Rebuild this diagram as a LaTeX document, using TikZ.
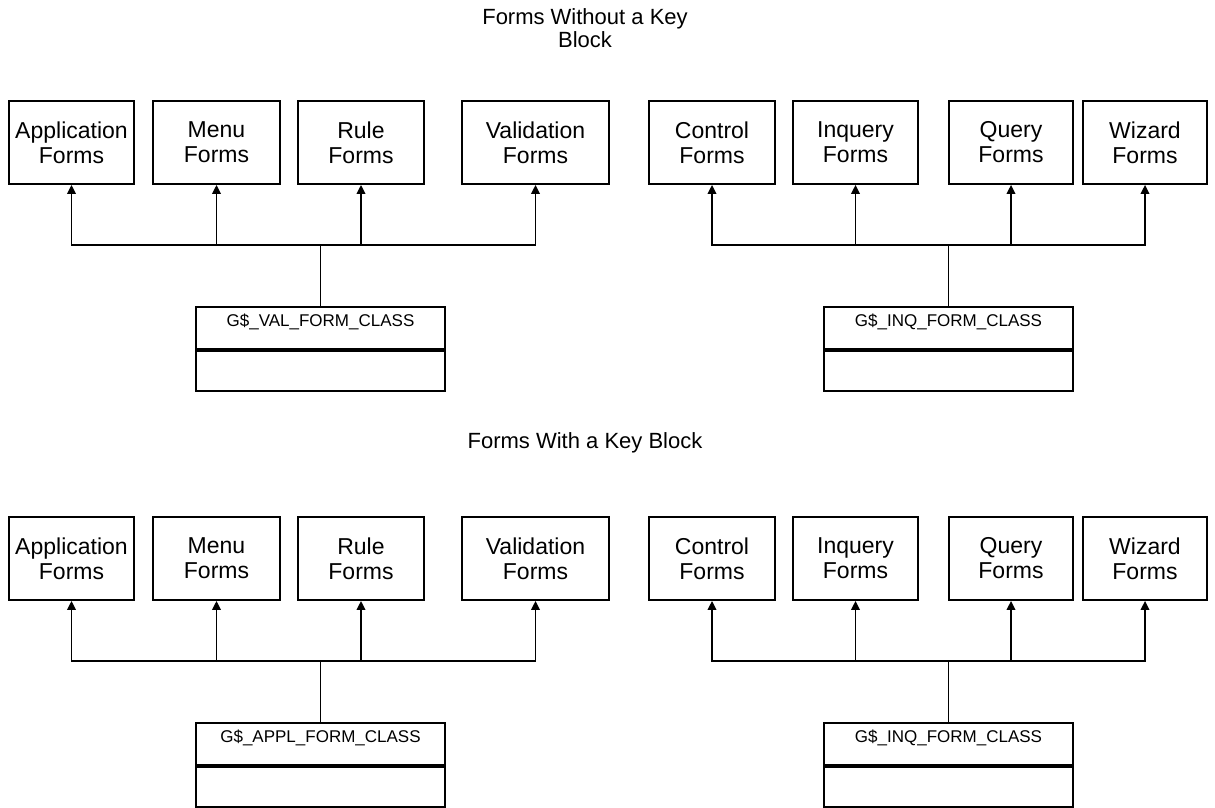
\documentclass[tikz,border=0pt]{standalone}
\usepackage{fontspec}
\setmainfont{Liberation Sans}
\usetikzlibrary{arrows.meta}
\begin{document}
\begin{tikzpicture}[x=1pt, y=-1pt,
        formbox/.style={draw, line width=1.8pt, minimum height=83pt, inner sep=0pt, align=center, font=\fontsize{23}{25}\selectfont},
        classpart/.style={draw, line width=1.8pt, minimum width=249pt, inner sep=0pt},
        classname/.style={anchor=north, inner sep=0pt, yshift=-7.5pt, font=\fontsize{17}{19}\selectfont},
        heading/.style={align=center, inner sep=0pt, font=\fontsize{22}{23}\selectfont},
        bus/.style={line width=1.8pt},
        arr/.style={line width=1.8pt, -{Triangle[width=8.5pt,length=9pt]}}]
        \useasboundingbox (0,0) rectangle (1215,807);

        % forms without a key block
        \node[heading] (titleA) at (585,28.5) {Forms Without a Key\\Block};

        \node[formbox, minimum width=125pt] (appA) at (71.5,142.5) {Application\\Forms};
        \node[formbox, minimum width=127pt] (menuA) at (216.5,142.5) {Menu\\Forms};
        \node[formbox, minimum width=126pt] (ruleA) at (361,142.5) {Rule\\Forms};
        \node[formbox, minimum width=147pt] (validA) at (535.5,142.5) {Validation\\Forms};
        \node[formbox, minimum width=126pt] (ctrlA) at (712,142.5) {Control\\Forms};
        \node[formbox, minimum width=125pt] (inqA) at (855.5,142.5) {Inquery\\Forms};
        \node[formbox, minimum width=124pt] (queryA) at (1011,142.5) {Query\\Forms};
        \node[formbox, minimum width=124pt] (wizA) at (1145,142.5) {Wizard\\Forms};

        \node[classpart, minimum height=42pt, label={[classname]north:G\$\_VAL\_FORM\_CLASS}] (valcls) at (320.5,328) {};
        \node[classpart, minimum height=40pt, anchor=north] (valclsbody) at (valcls.south) {};
        \node[classpart, minimum height=42pt, label={[classname]north:G\$\_INQ\_FORM\_CLASS}] (inqclsA) at (948.5,328) {};
        \node[classpart, minimum height=40pt, anchor=north] (inqclsAbody) at (inqclsA.south) {};

        \coordinate (busA) at (valcls.north |- 0,245);
        \coordinate (busB) at (inqclsA.north |- 0,245);
        \draw[bus] (valcls.north) -- (busA);
        \draw[bus] (inqclsA.north) -- (busB);
        \draw[arr] (busA) -| (appA);
        \draw[arr] (busA) -| (menuA);
        \draw[arr] (busA) -| (ruleA);
        \draw[arr] (busA) -| (validA);
        \draw[arr] (busB) -| (ctrlA);
        \draw[arr] (busB) -| (inqA);
        \draw[arr] (busB) -| (queryA);
        \draw[arr] (busB) -| (wizA);

        % forms with a key block
        \node[heading] (titleB) at (585,443) {Forms With a Key Block};

        \node[formbox, minimum width=125pt] (appB) at (71.5,558.5) {Application\\Forms};
        \node[formbox, minimum width=127pt] (menuB) at (216.5,558.5) {Menu\\Forms};
        \node[formbox, minimum width=126pt] (ruleB) at (361,558.5) {Rule\\Forms};
        \node[formbox, minimum width=147pt] (validB) at (535.5,558.5) {Validation\\Forms};
        \node[formbox, minimum width=126pt] (ctrlB) at (712,558.5) {Control\\Forms};
        \node[formbox, minimum width=125pt] (inqB) at (855.5,558.5) {Inquery\\Forms};
        \node[formbox, minimum width=124pt] (queryB) at (1011,558.5) {Query\\Forms};
        \node[formbox, minimum width=124pt] (wizB) at (1145,558.5) {Wizard\\Forms};

        \node[classpart, minimum height=42pt, label={[classname]north:G\$\_APPL\_FORM\_CLASS}] (applcls) at (320.5,744) {};
        \node[classpart, minimum height=40pt, anchor=north] (applclsbody) at (applcls.south) {};
        \node[classpart, minimum height=42pt, label={[classname]north:G\$\_INQ\_FORM\_CLASS}] (inqclsB) at (948.5,744) {};
        \node[classpart, minimum height=40pt, anchor=north] (inqclsBbody) at (inqclsB.south) {};

        \coordinate (busC) at (applcls.north |- 0,661);
        \coordinate (busD) at (inqclsB.north |- 0,661);
        \draw[bus] (applcls.north) -- (busC);
        \draw[bus] (inqclsB.north) -- (busD);
        \draw[arr] (busC) -| (appB);
        \draw[arr] (busC) -| (menuB);
        \draw[arr] (busC) -| (ruleB);
        \draw[arr] (busC) -| (validB);
        \draw[arr] (busD) -| (ctrlB);
        \draw[arr] (busD) -| (inqB);
        \draw[arr] (busD) -| (queryB);
        \draw[arr] (busD) -| (wizB);
\end{tikzpicture}
\end{document}
